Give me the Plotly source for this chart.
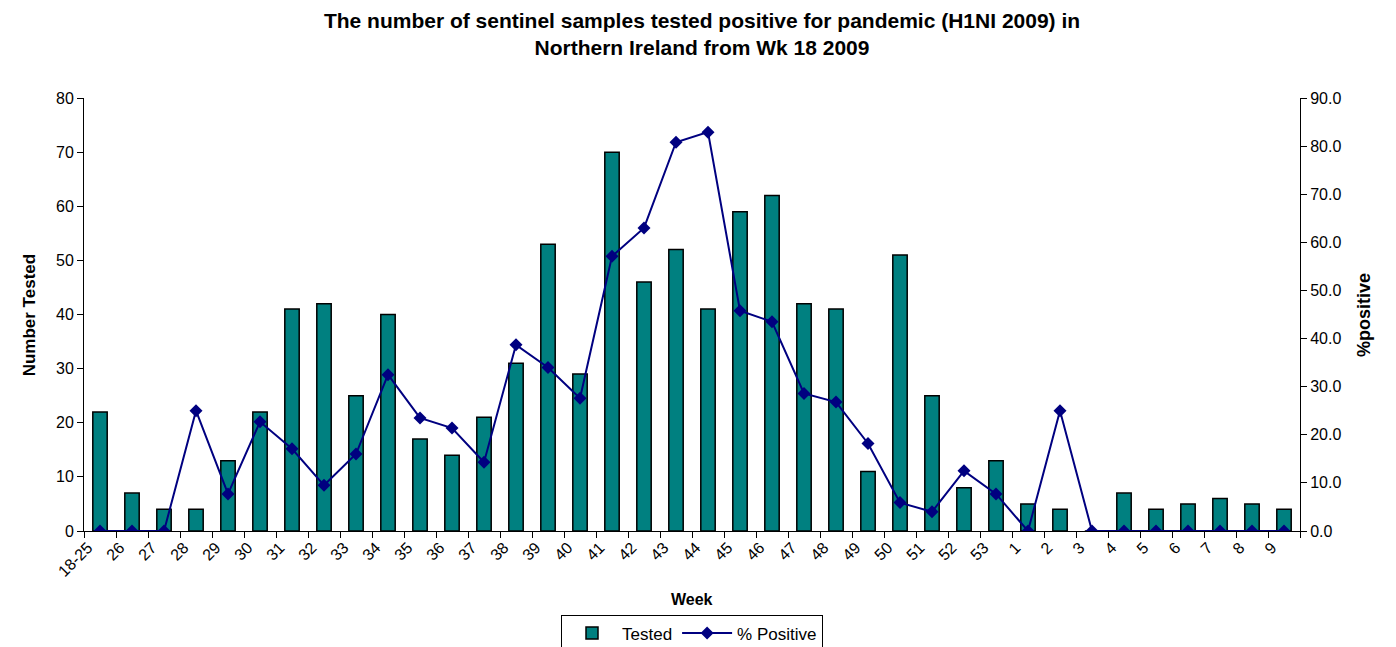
import plotly.graph_objects as go

weeks = ["18-25"] + [str(w) for w in range(26, 54)] + [str(w) for w in range(1, 10)]

tested = [22, 7, 4, 4, 13, 22, 41, 42, 25, 40, 17, 14, 21, 31, 53, 29,
          70, 46, 52, 41, 59, 62, 42, 41, 11, 51, 25, 8, 13,
          5, 4, 0, 7, 4, 5, 6, 5, 4]

pct_positive = [0, 0, 0, 25.0, 7.7, 22.7, 17.1, 9.5, 16.0, 32.5, 23.5, 21.4, 14.3,
                38.7, 34.0, 27.6, 57.1, 63.0, 80.8, 82.9, 45.8, 43.5, 28.6, 26.8,
                18.2, 5.9, 4.0, 12.5, 7.7,
                0, 25.0, 0, 0, 0, 0, 0, 0, 0]

FONT = "Liberation Sans, Arial, sans-serif"

fig = go.Figure()

# Tested bars

fig.add_trace(
    go.Bar(
        x=weeks,
        y=tested,
        name="Tested",
        width=0.45,
        marker=dict(color="#008080", line=dict(color="black", width=1.5)),
        yaxis="y"
    )
)

# % positive line

fig.add_trace(
    go.Scatter(
        x=weeks,
        y=pct_positive,
        name="% Positive",
        mode="lines+markers",
        line=dict(color="#000080", width=2),
        marker=dict(symbol="diamond", size=10, color="#000080"),
        yaxis="y2"
    )
)

# page body adds 8px, so figure is 8px smaller and margins shifted
fig.update_layout(
    width=1388,
    height=639,
    paper_bgcolor="white",
    plot_bgcolor="white",
    font=dict(family=FONT, size=16, color="black"),
    margin=dict(l=76, r=96, t=90, b=116, autoexpand=False),
    title=dict(
        text="<b>The number of sentinel samples tested positive for pandemic (H1NI 2009) in<br>Northern Ireland from Wk 18 2009</b>",
        x=0.5,
        xanchor="center",
        y=0.969,
        yanchor="middle",
        font=dict(family=FONT, size=21, color="black")
    ),
    showlegend=True,
    legend=dict(
        orientation="h",
        x=0.5,
        xanchor="center",
        y=-0.193,
        yanchor="top",
        bordercolor="black",
        borderwidth=1,
        font=dict(family=FONT, size=17),
        bgcolor="white",
        itemwidth=50
    ),
    xaxis=dict(
        type="category",
        range=[-0.5, len(weeks) - 0.5],
        automargin=False,
        tickangle=-45,
        ticklabelshift=-12,
        showline=True,
        linecolor="black",
        linewidth=1,
        ticks="outside",
        tickson="boundaries",
        ticklen=6,
        tickcolor="black",
        showgrid=False,
        tickfont=dict(size=16)
    ),
    yaxis=dict(
        range=[0, 80],
        dtick=10,
        automargin=False,
        showline=True,
        linecolor="black",
        ticks="outside",
        ticklen=6,
        tickcolor="black",
        showgrid=False,
        zeroline=False,
        tickfont=dict(size=16)
    ),
    yaxis2=dict(
        range=[0, 90],
        dtick=10,
        tickformat=".1f",
        overlaying="y",
        side="right",
        automargin=False,
        showline=True,
        linecolor="black",
        ticks="outside",
        ticklen=6,
        tickcolor="black",
        showgrid=False,
        zeroline=False,
        tickfont=dict(size=16)
    ),
    annotations=[
        dict(text="<b>Week</b>", xref="paper", yref="paper", x=0.5, y=-0.159,
             yanchor="middle", showarrow=False, font=dict(family=FONT, size=16)),
        dict(text="<b>Number Tested</b>", xref="paper", yref="paper", x=-0.054, y=0.5,
             textangle=-90, showarrow=False, font=dict(family=FONT, size=17)),
        dict(text="<b>%positive</b>", xref="paper", yref="paper", x=1.062, y=0.5,
             textangle=-90, showarrow=False, font=dict(family=FONT, size=18)),
    ]
)

fig.write_html("out.html")
